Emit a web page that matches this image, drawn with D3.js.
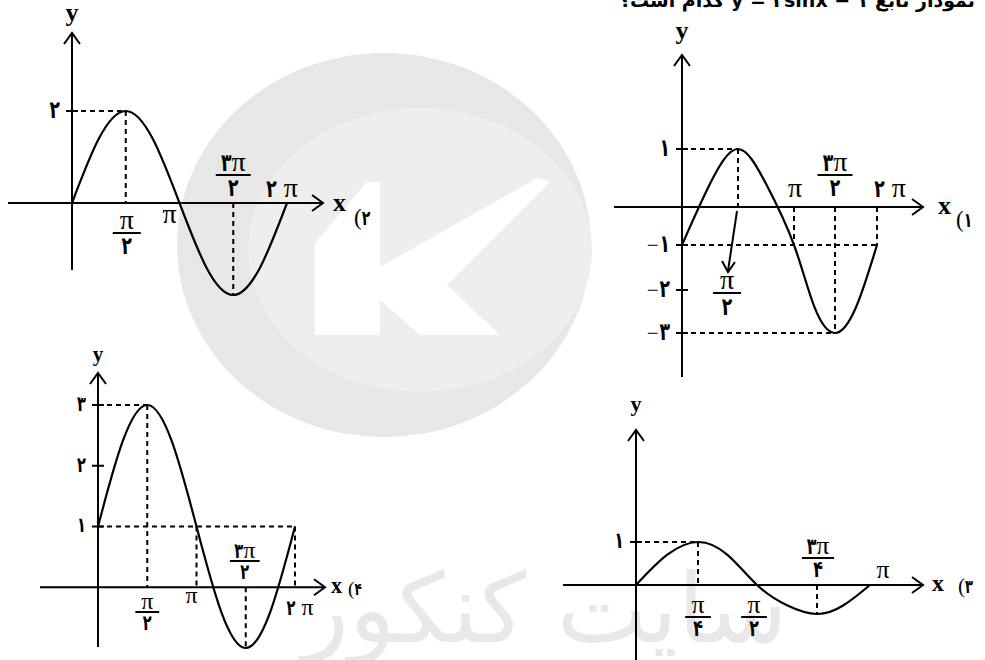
<!DOCTYPE html>
<html>
<head>
<meta charset="utf-8">
<title>sin graphs</title>
<style>
  body { margin: 0; background: #fff; }
  svg { display: block; }
  text { white-space: pre; }
  .serif { font-family: "Liberation Serif", "DejaVu Serif", serif; }
  .fa { font-family: "DejaVu Sans", sans-serif; font-weight: bold; }
</style>
</head>
<body>
<svg id="svg" width="985" height="660"></svg>
<script src="https://cdn.jsdelivr.net/npm/d3@7"></script>
<script>
const svg = d3.select('#svg');

// x values are in units of pi
// 1) y = 2sinx - 1
const p1X = [0, 0.25, 0.5, 0.75, 1, 1.25, 1.5, 1.75, 2];
const p1Y = [-1, 0.4, 1, 0.4, -1, -2.4, -3, -2.4, -1];
const p1XTicks = [1, 1.5, 2];
const p1XTickText = ["π", "۳π/۲", "۲ π"];
const p1YTicks = [1, -1, -2, -3];
const p1YTickText = ["۱", "−۱", "−۲", "−۳"];
const p1Guides = [[0, 1, 0.5, 1], [0.5, 1, 0.5, 0], [0, -1, 2, -1], [1, 0, 1, -1],
                  [1.5, 0, 1.5, -3], [2, 0, 2, -1], [0, -3, 1.5, -3]];

// 2) y = 2sinx
const p2X = [0, 0.25, 0.5, 0.75, 1, 1.25, 1.5, 1.75, 2];
const p2Y = [0, 1.4, 2, 1.4, 0, -1.4, -2, -1.4, 0];
const p2XTicks = [0.5, 1, 1.5, 2];
const p2XTickText = ["π/۲", "π", "۳π/۲", "۲ π"];
const p2YTicks = [2];
const p2YTickText = ["۲"];
const p2Guides = [[0, 2, 0.5, 2], [0.5, 2, 0.5, 0], [1.5, 0, 1.5, -2]];

// 3) y = sin2x
const p3X = [0, 0.125, 0.25, 0.375, 0.5, 0.625, 0.75, 0.875, 1];
const p3Y = [0, 0.7, 1, 0.7, 0, -0.7, -1, -0.7, 0];
const p3XTicks = [0.25, 0.5, 0.75, 1];
const p3XTickText = ["π/۴", "π/۲", "۳π/۴", "π"];
const p3YTicks = [1];
const p3YTickText = ["۱"];
const p3Guides = [[0, 1, 0.25, 1], [0.25, 1, 0.25, 0], [0.75, 0, 0.75, -1]];

// 4) y = 2sinx + 1
const p4X = [0, 0.25, 0.5, 0.75, 1, 1.25, 1.5, 1.75, 2];
const p4Y = [1, 2.4, 3, 2.4, 1, -0.4, -1, -0.4, 1];
const p4XTicks = [0.5, 1, 1.5, 2];
const p4XTickText = ["π/۲", "π", "۳π/۲", "۲ π"];
const p4YTicks = [3, 2, 1];
const p4YTickText = ["۳", "۲", "۱"];
const p4Guides = [[0, 3, 0.5, 3], [0.5, 3, 0.5, 0], [0, 1, 2, 1], [1, 1, 1, 0],
                  [1.5, 0, 1.5, -1], [2, 1, 2, 0]];

const panels = [
  { num: "(۱", xs: p1X, ys: p1Y, xTicks: p1XTicks, xText: p1XTickText, yTicks: p1YTicks, yText: p1YTickText, guides: p1Guides,
    xDom: [0, 0.5, 1, 1.5, 2], xRng: [682, 738, 794, 835, 877],
    yDom: [-3, -2, -1, 0, 1], yRng: [333, 290, 245, 207, 149],
    axisX: [614, 923], axisY: [377, 55], yLabY: 39, ySize: 26,
    xLab: [938, 214], numLab: [956, 227],
    labY: [197, 175, 197], labDx: [1, 0, 13], s: 1 },
  { num: "(۲", xs: p2X, ys: p2Y, xTicks: p2XTicks, xText: p2XTickText, yTicks: p2YTicks, yText: p2YTickText, guides: p2Guides,
    xDom: [0, 2], xRng: [72, 287], yDom: [-2, 2], yRng: [295, 111],
    axisX: [8, 323], axisY: [270, 33], yLabY: 21, ySize: 26,
    xLab: [333, 211], numLab: [354, 225],
    labY: [233, 223, 175, 197], labDx: [1, -10, 0, -5], s: 1 },
  { num: "(۳", xs: p3X, ys: p3Y, xTicks: p3XTicks, xText: p3XTickText, yTicks: p3YTicks, yText: p3YTickText, guides: p3Guides,
    xDom: [0, 0.25, 0.5, 0.75, 1], xRng: [636, 698, 757, 817, 870],
    yDom: [-1, 0, 1], yRng: [614, 585, 542],
    axisX: [563, 923], axisY: [662, 430], yLabY: 411, ySize: 22,
    xLab: [932, 591], numLab: [958, 593],
    labY: [617, 617, 558, 578], labDx: [0, -3, 1, 13], s: 0.92 },
  { num: "(۴", xs: p4X, ys: p4Y, xTicks: p4XTicks, xText: p4XTickText, yTicks: p4YTicks, yText: p4YTickText, guides: p4Guides,
    xDom: [0, 2], xRng: [98, 295], yDom: [-1, 3], yRng: [648, 405],
    axisX: [40, 325], axisY: [647, 373], yLabY: 361, ySize: 21,
    xLab: [331, 593], numLab: [348, 595],
    labY: [612, 603, 561, 615], labDx: [0, -5, -1, 5], s: 0.85 }
];

// ---- watermark ----
const wm = svg.append('g');
wm.append('ellipse').attr('cx', 384).attr('cy', 245).attr('rx', 207).attr('ry', 192).attr('fill', '#e7e7e7');
wm.append('ellipse').attr('cx', 420).attr('cy', 250).attr('rx', 172).attr('ry', 142).attr('fill', '#eeeeee');
wm.append('polygon')
  .attr('points', '315,243 367,182 380,182 380,267 537,178 550,182 447,285 500,335 420,335 380,300 380,335 315,335')
  .attr('fill', '#ffffff');
wm.append('text')
  .attr('x', 545).attr('y', 642)
  .attr('text-anchor', 'middle')
  .attr('direction', 'rtl')
  .style('font-family', '"DejaVu Sans", sans-serif')
  .style('font-size', '96px')
  .attr('fill', '#e8e8e8')
  .text('سایت کنکور');

// question line, cut by the top edge
svg.append('text')
  .attr('x', 975).attr('y', 7)
  .attr('text-anchor', 'start')
  .attr('direction', 'rtl')
  .style('font-family', '"DejaVu Sans", sans-serif')
  .style('font-weight', 'bold')
  .style('font-size', '19px')
  .text('نمودار تابع y = ۲sinx − ۱ کدام است؟');

// persian digits (narrowed) next to serif pi / minus, laid out run by run
function mixed(parent, str, x, y, anchor, size) {
  const g = parent.append('g');
  let cur = 0;
  const runs = str.match(/[۰-۹]+|[^۰-۹]+/g) || [];
  runs.forEach(r => {
    const isFa = /[۰-۹]/.test(r);
    const isMinus = r === '−';
    const sz = isFa ? size * 0.88 : isMinus ? size * 0.75 : size;
    const t = g.append('text')
      .attr('class', isFa ? 'fa' : 'serif')
      .style('font-size', sz + 'px')
      .text(r.replace(/ /g, '\u00a0'));
    const sx = isFa ? 0.7 : 1;
    t.attr('transform', `translate(${cur},0) scale(${sx},1)`);
    cur += t.node().getComputedTextLength() * sx + (isMinus ? 1 : 0);
  });
  const off = anchor === 'middle' ? -cur / 2 : anchor === 'end' ? -cur : 0;
  g.attr('transform', `translate(${x + off},${y})`);
  return g;
}

function drawPanel(c) {
  const x = d3.scaleLinear().domain(c.xDom).range(c.xRng);
  const y = d3.scaleLinear().domain(c.yDom).range(c.yRng);
  const g = svg.append('g');
  const ox = x(0), oy = y(0);
  const fs = 28 * c.s;

  g.selectAll('line.guide').data(c.guides).join('line')
    .attr('class', 'guide')
    .attr('x1', d => x(d[0])).attr('y1', d => y(d[1]))
    .attr('x2', d => x(d[2])).attr('y2', d => y(d[3]))
    .attr('stroke', '#000').attr('stroke-width', 2).attr('stroke-dasharray', '5,4');

  // axes
  g.append('line').attr('x1', c.axisX[0]).attr('x2', c.axisX[1]).attr('y1', oy).attr('y2', oy)
    .attr('stroke', '#000').attr('stroke-width', 2);
  g.append('line').attr('x1', ox).attr('x2', ox).attr('y1', c.axisY[0]).attr('y2', c.axisY[1])
    .attr('stroke', '#000').attr('stroke-width', 2);
  const ax = c.axisX[1], ay = c.axisY[1];
  g.append('path').attr('d', `M${ax - 11},${oy - 8}L${ax},${oy}L${ax - 11},${oy + 8}`)
    .attr('fill', 'none').attr('stroke', '#000').attr('stroke-width', 2);
  g.append('path').attr('d', `M${ox - 8},${ay + 11}L${ox},${ay}L${ox + 8},${ay + 11}`)
    .attr('fill', 'none').attr('stroke', '#000').attr('stroke-width', 2);

  g.append('text').attr('class', 'serif').attr('x', c.xLab[0]).attr('y', c.xLab[1])
    .style('font-size', 26 * c.s + 'px').style('font-weight', 'bold').text('x');
  g.append('text').attr('class', 'serif').attr('x', ox).attr('y', c.yLabY)
    .attr('text-anchor', 'middle')
    .style('font-size', c.ySize + 'px').style('font-weight', 'bold').text('y');
  mixed(g, c.num, c.numLab[0], c.numLab[1], 'start', 23 * c.s);

  // y ticks
  c.yTicks.forEach((v, i) => {
    g.append('line').attr('x1', ox - 6).attr('x2', ox + 6).attr('y1', y(v)).attr('y2', y(v))
      .attr('stroke', '#000').attr('stroke-width', 2);
    mixed(g, c.yText[i], ox - 12, y(v) + 7 * c.s, 'end', fs);
  });

  // curve
  g.append('path')
    .datum(d3.zip(c.xs, c.ys))
    .attr('d', d3.line().x(d => x(d[0])).y(d => y(d[1])).curve(d3.curveNatural))
    .attr('fill', 'none').attr('stroke', '#000').attr('stroke-width', 2.2);

  // x tick labels
  c.xTicks.forEach((v, i) => {
    const cx = x(v) + c.labDx[i];
    const t = c.xText[i];
    if (t.includes('/')) {
      const [n, d] = t.split('/');
      const w = (n.length > 1 ? 35 : 28) * c.s;
      const by = c.labY[i];
      mixed(g, n, cx, by - 4 * c.s, 'middle', fs);
      g.append('line').attr('x1', cx - w / 2).attr('x2', cx + w / 2).attr('y1', by).attr('y2', by)
        .attr('stroke', '#000').attr('stroke-width', 2);
      mixed(g, d, cx, by + 21 * c.s, 'middle', fs);
    } else {
      mixed(g, t, cx, c.labY[i], 'middle', fs);
    }
  });
  return { g, x, y };
}

const drawn = panels.map(drawPanel);

// panel 1: pi/2 label hanging below with an arrow
{
  const { g, x, y } = drawn[0];
  const px = x(0.5);
  g.append('line').attr('x1', px - 1).attr('y1', y(0) + 4).attr('x2', px - 10).attr('y2', 271)
    .attr('stroke', '#000').attr('stroke-width', 2);
  g.append('path').attr('d', `M${px - 16},${261}L${px - 10},${272}L${px - 3},${262}`)
    .attr('fill', 'none').attr('stroke', '#000').attr('stroke-width', 2);
  const cx = px - 11, by = 293;
  mixed(g, 'π', cx, by - 4, 'middle', 28);
  g.append('line').attr('x1', cx - 14).attr('x2', cx + 14).attr('y1', by).attr('y2', by)
    .attr('stroke', '#000').attr('stroke-width', 2);
  mixed(g, '۲', cx, by + 22, 'middle', 28);
}
</script>
</body>
</html>
